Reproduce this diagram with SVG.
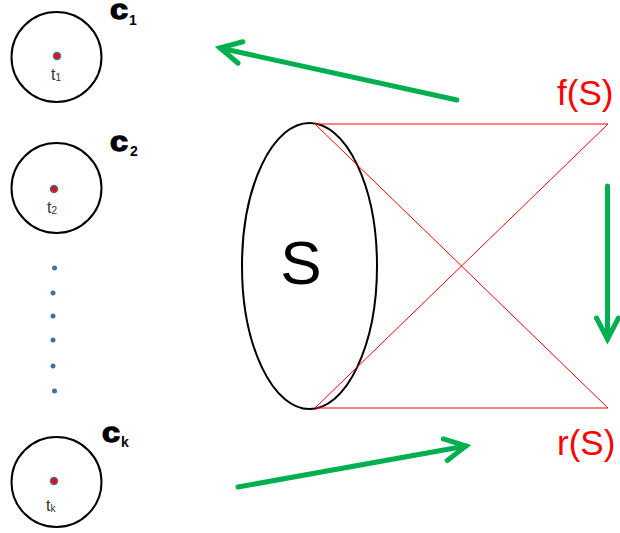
<svg xmlns="http://www.w3.org/2000/svg" width="620" height="533" viewBox="0 0 620 533">
<style>
.cl{fill:none;stroke:#000;stroke-width:2}
.dot{fill:#ff0000;stroke:#41719c;stroke-width:1.5}
.sm{fill:#41719c}
.lbl{font-family:"Liberation Sans",Arial,sans-serif;font-weight:bold;fill:#000}
.big{stroke:#000;stroke-width:1.3}
.t{font-family:"Liberation Sans",Arial,sans-serif;fill:#333}
.red{font-family:"Liberation Sans",Arial,sans-serif;fill:#ff0000;font-size:35px}
.rl{stroke:#ff0000;stroke-width:1;fill:none}
.ga{stroke:#00b050;stroke-width:5;fill:none;stroke-linecap:round;marker-end:url(#ah)}
</style>
<defs>
<marker id="ah" markerUnits="userSpaceOnUse" refX="0" refY="0" markerWidth="40" markerHeight="40" orient="auto" overflow="visible">
<path d="M-21,-11 L0,0 L-21,11" fill="none" stroke="#00b050" stroke-width="5" stroke-linecap="round" stroke-linejoin="miter"/>
</marker>
</defs>
<rect width="620" height="533" fill="#fff"/>
<g id="c1">
<circle class="cl" cx="56.5" cy="57" r="45"/>
<circle class="dot" cx="57" cy="56" r="3.5"/>
<text class="t" x="51" y="80" font-size="16">t<tspan font-size="10" dy="1">1</tspan></text>
<text class="lbl big" x="110" y="19" font-size="28" textLength="18" lengthAdjust="spacingAndGlyphs">c</text>
<text class="lbl" x="129" y="25" font-size="14">1</text>
</g>
<g id="c2">
<circle class="cl" cx="56.5" cy="188" r="45"/>
<circle class="dot" cx="54" cy="189" r="3.5"/>
<text class="t" x="47" y="213" font-size="16">t<tspan font-size="10" dy="1">2</tspan></text>
<text class="lbl big" x="110" y="151" font-size="28" textLength="18" lengthAdjust="spacingAndGlyphs">c</text>
<text class="lbl" x="130" y="156" font-size="14">2</text>
</g>
<g id="dots">
<circle class="sm" cx="54.5" cy="268" r="2.5"/>
<circle class="sm" cx="53" cy="293" r="2.5"/>
<circle class="sm" cx="53" cy="316" r="2.5"/>
<circle class="sm" cx="53" cy="340" r="2.5"/>
<circle class="sm" cx="53" cy="366" r="2.5"/>
<circle class="sm" cx="54.5" cy="391" r="2.5"/>
</g>
<g id="ck">
<circle class="cl" cx="56.5" cy="482" r="45"/>
<circle class="dot" cx="54" cy="481" r="3.5"/>
<text class="t" x="46" y="511" font-size="16">t<tspan font-size="10" dy="1">k</tspan></text>
<text class="lbl big" x="102" y="442" font-size="28" textLength="18" lengthAdjust="spacingAndGlyphs">c</text>
<text class="lbl" x="121" y="447" font-size="14">k</text>
</g>
<g id="S">
<ellipse class="cl" cx="309.5" cy="266" rx="67.5" ry="143"/>
<text x="301" y="284" font-size="62" text-anchor="middle" font-family="Liberation Sans,Arial,sans-serif" fill="#000">S</text>
</g>
<g id="fS"><text class="red" x="557" y="105">f(S)</text></g>
<g id="rS"><text class="red" x="557" y="455">r(S)</text></g>
<g id="connectors">
<path class="rl" d="M315,124 L608,124 M315,124 L608,408 M315,408 L608,124 M315,408 L608,408"/>
<line class="ga" x1="457" y1="100" x2="220" y2="48"/>
<line class="ga" x1="607.5" y1="186" x2="607.5" y2="339"/>
<line class="ga" x1="238" y1="487" x2="466" y2="446"/>
</g>
</svg>
